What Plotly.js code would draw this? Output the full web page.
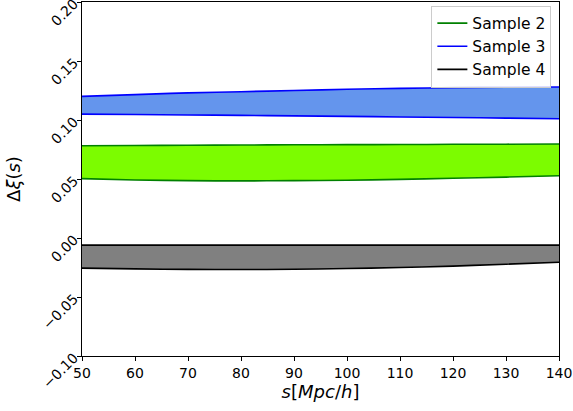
<!DOCTYPE html>
<html><head><meta charset="utf-8">
<script src="https://cdn.plot.ly/plotly-3.0.1.min.js"></script>
<style>html,body{margin:0;padding:0;background:#fff}</style>
</head><body><div id="chart" style="width:573px;height:411px"></div>
<script>
const s = [50, 60, 70, 80, 90, 100, 110, 120, 130, 140];
const sample2Upper = [0.0782, 0.0784, 0.0786, 0.0788, 0.0790, 0.0791, 0.0792, 0.0794, 0.0795, 0.0797];
const sample2Lower = [0.0503, 0.0492, 0.0486, 0.0484, 0.0486, 0.0490, 0.0497, 0.0506, 0.0516, 0.0527];
const sample3Upper = [0.1200, 0.1215, 0.1230, 0.1240, 0.1250, 0.1260, 0.1268, 0.1274, 0.1278, 0.1280];
const sample3Lower = [0.1050, 0.1047, 0.1043, 0.1039, 0.1035, 0.1031, 0.1026, 0.1021, 0.1016, 0.1010];
const sample4Upper = [-0.0060, -0.0060, -0.0060, -0.0060, -0.0060, -0.0060, -0.0060, -0.0060, -0.0060, -0.0060];
const sample4Lower = [-0.0255, -0.0262, -0.0266, -0.0267, -0.0265, -0.0259, -0.0250, -0.0238, -0.0222, -0.0205];
const yTicks = [-0.10, -0.05, 0.00, 0.05, 0.10, 0.15, 0.20];
const names = ['Sample 2', 'Sample 3', 'Sample 4'];
const lineColors = ['#008000', '#0000ff', '#000000'];
const fillColors = ['#7cfc00', '#6495ed', '#808080'];
const uppers = [sample2Upper, sample3Upper, sample4Upper];
const lowers = [sample2Lower, sample3Lower, sample4Lower];

const traces = [];
for (let i = 0; i < 3; i++) {
  traces.push({x: s, y: lowers[i], mode: 'lines', line: {color: lineColors[i], width: 1.6, shape: 'spline'}, showlegend: false, hoverinfo: 'skip'});
  traces.push({x: s, y: uppers[i], mode: 'lines', line: {color: lineColors[i], width: 1.6, shape: 'spline'}, fill: 'tonexty', fillcolor: fillColors[i], showlegend: false, hoverinfo: 'skip'});
}
for (let i = 0; i < 3; i++) {
  traces.push({x: [null], y: [null], mode: 'lines', name: names[i], line: {color: lineColors[i], width: 1.6}, showlegend: true});
}

const axisCommon = {showgrid: false, zeroline: false, showline: true, linecolor: '#000', linewidth: 1, mirror: true,
  ticks: 'outside', ticklen: 4, tickwidth: 1, tickcolor: '#000', ticklabeloverflow: 'allow',
  tickfont: {family: 'DejaVu Sans', size: 14, color: '#000'}};

const layout = {
  width: 573, height: 411,
  margin: {l: 82, r: 14, t: 2, b: 55},
  paper_bgcolor: '#fff', plot_bgcolor: '#fff',
  font: {family: 'DejaVu Sans', color: '#000'},
  xaxis: Object.assign({}, axisCommon, {range: [50, 140], tick0: 50, dtick: 10,
    title: {text: '<i>s</i>[<i>Mpc</i>/<i>h</i>]', font: {size: 18, family: 'DejaVu Sans'}, standoff: 2}}),
  yaxis: Object.assign({}, axisCommon, {range: [-0.1, 0.2000001], tickmode: 'array', tickvals: yTicks,
    ticktext: yTicks.map(v => (v < 0 ? '\u2212' : '') + Math.abs(v).toFixed(2)), tickangle: -45,
    title: {text: 'Δ<i>ξ</i>(<i>s</i>)', font: {size: 18, family: 'DejaVu Sans'}, standoff: 14}}),
  legend: {x: 0.984, y: 0.99, xanchor: 'right', yanchor: 'top', bgcolor: 'rgba(255,255,255,0.8)', traceorder: 'normal',
    bordercolor: '#cccccc', borderwidth: 1, font: {family: 'DejaVu Sans', size: 15.5, color: '#000'}, tracegroupgap: 0},
  showlegend: true
};
Plotly.newPlot('chart', traces, layout, {displayModeBar: false, staticPlot: true});
</script></body></html>
